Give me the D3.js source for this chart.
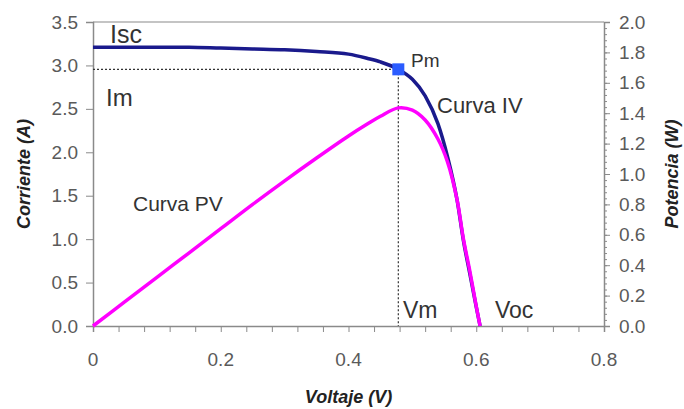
<!DOCTYPE html>
<html>
<head>
<meta charset="utf-8">
<script src="https://cdn.jsdelivr.net/npm/d3@7"></script>
<style>
  body { margin: 0; background: #fff; }
  text { font-family: Arial, "Liberation Sans", sans-serif; }
</style>
</head>
<body>
<div class="chart"></div>
<script>
// data
const voltage = [0, 0.05, 0.1, 0.15, 0.2, 0.25, 0.3, 0.35, 0.4, 0.43, 0.45, 0.478, 0.5, 0.52, 0.54, 0.555, 0.57, 0.58, 0.59, 0.6, 0.606];
const current = [3.21, 3.21, 3.21, 3.21, 3.2, 3.19, 3.18, 3.16, 3.13, 3.08, 3.04, 2.955, 2.84, 2.65, 2.33, 1.95, 1.45, 0.98, 0.6, 0.22, 0];
const power   = [0, 0.16, 0.32, 0.48, 0.64, 0.8, 0.955, 1.105, 1.25, 1.33, 1.38, 1.435, 1.42, 1.355, 1.23, 1.08, 0.83, 0.57, 0.36, 0.13, 0];

const pm = { v: 0.478, i: 2.955 };

const xTicks = [0, 0.2, 0.4, 0.6, 0.8];
const xTickLabels = ["0", "0.2", "0.4", "0.6", "0.8"];
const yTicks = [0, 0.5, 1, 1.5, 2, 2.5, 3, 3.5];
const y2Ticks = [0, 0.2, 0.4, 0.6, 0.8, 1, 1.2, 1.4, 1.6, 1.8, 2];

const svgWidth = 684;
const svgHeight = 409;

const plotL = 93, plotR = 604, plotT = 22, plotB = 326;

const svg = d3.select(".chart")
    .append("svg")
    .attr("width", svgWidth)
    .attr("height", svgHeight);

const x = d3.scaleLinear().domain([0, 0.8]).range([plotL, plotR]);
const y = d3.scaleLinear().domain([0, 3.5]).range([plotB, plotT]);
const y2 = d3.scaleLinear().domain([0, 2]).range([plotB, plotT]);

const axisColor = "#8a8a8a";
const labelColor = "#5a5a5a";

// top frame line
svg.append("line")
    .attr("x1", plotL).attr("x2", plotR)
    .attr("y1", plotT).attr("y2", plotT)
    .attr("stroke", "#b0b0b0").attr("stroke-width", 1.5);

// x axis
const xAxis = svg.append("g")
    .attr("transform", `translate(0,${plotB})`)
    .call(d3.axisBottom(x).tickValues(d3.range(0, 0.8001, 0.04)).tickSize(6).tickFormat(""));
xAxis.select(".domain").attr("stroke", axisColor).attr("stroke-width", 1.5);
xAxis.selectAll(".tick line").attr("stroke", axisColor);

svg.append("g").selectAll("text")
    .data(xTicks)
    .enter().append("text")
    .attr("x", d => x(d))
    .attr("y", plotB + 33)
    .attr("text-anchor", "middle")
    .attr("dominant-baseline", "central")
    .attr("fill", labelColor)
    .style("font-size", "19px")
    .text((d, i) => xTickLabels[i]);

// left axis
const yAxis = svg.append("g")
    .attr("transform", `translate(${plotL},0)`)
    .call(d3.axisLeft(y).tickValues(yTicks).tickSize(7).tickPadding(8).tickFormat(d3.format(".1f")));
yAxis.select(".domain").attr("stroke", axisColor).attr("stroke-width", 1.5);
yAxis.selectAll(".tick line").attr("stroke", axisColor);
yAxis.selectAll(".tick text").attr("fill", labelColor).style("font-size", "19px")
    .style("font-family", "Arial, 'Liberation Sans', sans-serif");

// right axis with dense minor ticks
const y2Minor = svg.append("g")
    .attr("transform", `translate(${plotR},0)`)
    .call(d3.axisRight(y2).tickValues(d3.range(0, 2.0001, 0.04)).tickSize(3).tickFormat(""));
y2Minor.select(".domain").remove();
y2Minor.selectAll(".tick line").attr("stroke", axisColor);

const y2Axis = svg.append("g")
    .attr("transform", `translate(${plotR},0)`)
    .call(d3.axisRight(y2).tickValues(y2Ticks).tickSize(6).tickPadding(9).tickFormat(d3.format(".1f")));
y2Axis.select(".domain").attr("stroke", axisColor).attr("stroke-width", 1.5);
y2Axis.selectAll(".tick line").attr("stroke", axisColor);
y2Axis.selectAll(".tick text").attr("fill", labelColor).style("font-size", "19px")
    .style("font-family", "Arial, 'Liberation Sans', sans-serif");

// axis titles
svg.append("text")
    .attr("transform", `translate(30,${(plotT + plotB) / 2}) rotate(-90)`)
    .attr("text-anchor", "middle")
    .style("font-size", "18px").style("font-weight", "bold").style("font-style", "italic")
    .attr("fill", "#222")
    .text("Corriente (A)");

svg.append("text")
    .attr("x", (plotL + plotR) / 2)
    .attr("y", 403)
    .attr("text-anchor", "middle")
    .style("font-size", "18px").style("font-weight", "bold").style("font-style", "italic")
    .attr("fill", "#222")
    .text("Voltaje (V)");

svg.append("text")
    .attr("transform", `translate(678,${(plotT + plotB) / 2}) rotate(-90)`)
    .attr("text-anchor", "middle")
    .style("font-size", "18px").style("font-weight", "bold").style("font-style", "italic")
    .attr("fill", "#222")
    .text("Potencia (W)");

// dotted guides to Pm
svg.append("line")
    .attr("x1", x(0)).attr("x2", x(pm.v))
    .attr("y1", y(pm.i)).attr("y2", y(pm.i))
    .attr("stroke", "#333").attr("stroke-width", 1.2).attr("stroke-dasharray", "2,2");
svg.append("line")
    .attr("x1", x(pm.v)).attr("x2", x(pm.v))
    .attr("y1", y(pm.i)).attr("y2", y(0))
    .attr("stroke", "#333").attr("stroke-width", 1.2).attr("stroke-dasharray", "2,2");

// curves
const ivLine = d3.line()
    .x((d, i) => x(voltage[i]))
    .y(d => y(d))
    .curve(d3.curveMonotoneX);

const pvLine = d3.line()
    .x((d, i) => x(voltage[i]))
    .y(d => y2(d))
    .curve(d3.curveCatmullRom);

svg.append("path")
    .datum(current)
    .attr("d", ivLine)
    .attr("fill", "none")
    .attr("stroke", "#1a1a8c")
    .attr("stroke-width", 3.5);

svg.append("path")
    .datum(power)
    .attr("d", pvLine)
    .attr("fill", "none")
    .attr("stroke", "#ff00ff")
    .attr("stroke-width", 3.5);

// Pm marker
svg.append("rect")
    .attr("x", x(pm.v) - 6).attr("y", y(pm.i) - 6)
    .attr("width", 12).attr("height", 12)
    .attr("fill", "#2b5cff");

// annotations
const notes = [
    { t: "Isc", x: 110, y: 43, s: 25 },
    { t: "Im", x: 106, y: 106, s: 24 },
    { t: "Pm", x: 411, y: 67, s: 19 },
    { t: "Curva IV", x: 437, y: 113, s: 22 },
    { t: "Curva PV", x: 133, y: 211, s: 21 },
    { t: "Vm", x: 403, y: 318, s: 23 },
    { t: "Voc", x: 495, y: 318, s: 23 }
];
svg.append("g").selectAll("text")
    .data(notes)
    .enter().append("text")
    .attr("x", d => d.x)
    .attr("y", d => d.y)
    .attr("fill", "#333")
    .style("font-size", d => d.s + "px")
    .text(d => d.t);
</script>
</body>
</html>
